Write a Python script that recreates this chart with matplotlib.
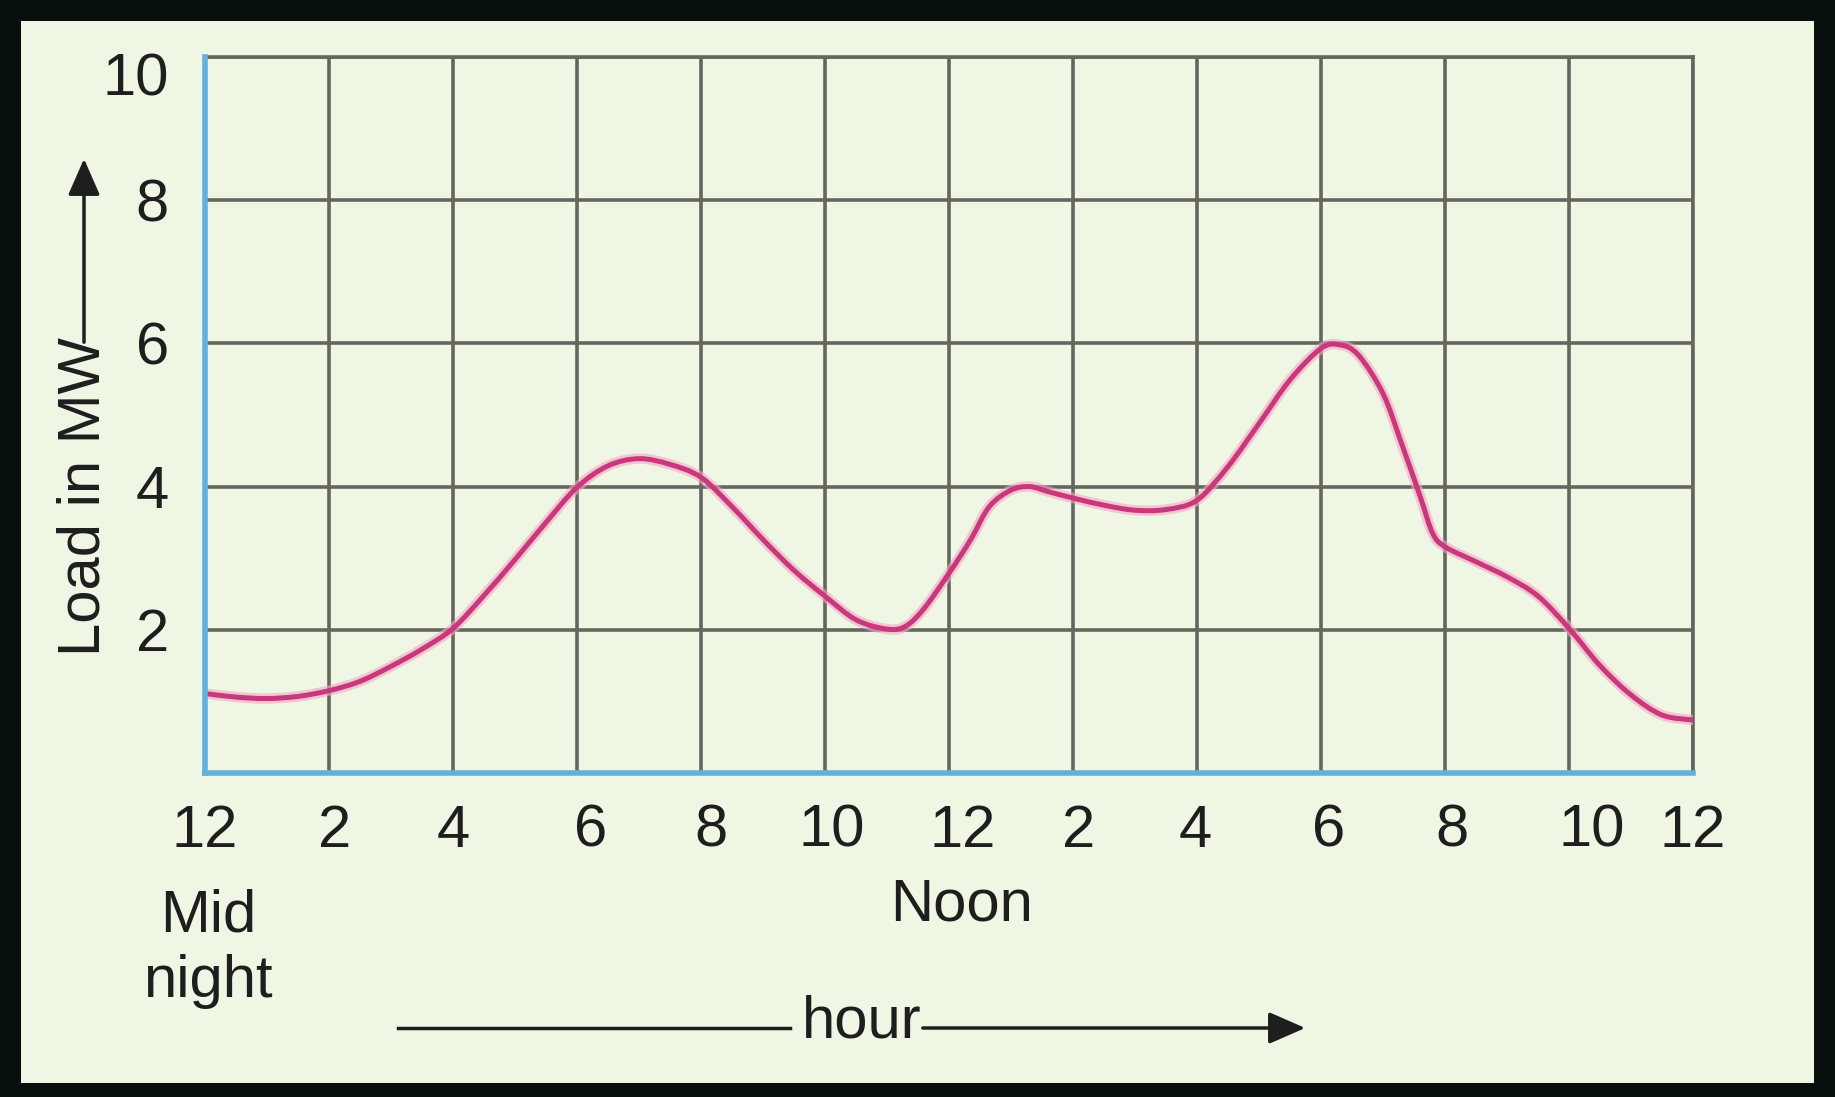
import numpy as np
import matplotlib
matplotlib.use("Agg")
import matplotlib.pyplot as plt
from matplotlib.patches import Rectangle, FancyArrowPatch, PathPatch
from matplotlib.path import Path
from matplotlib.transforms import ScaledTranslation

plt.rcParams['font.family'] = ['Liberation Sans Narrow', 'Liberation Sans', 'DejaVu Sans']

# load curve (hour of day, MW)
hours = [0, 0.5, 1, 1.5, 2, 2.5, 3, 3.5, 4, 4.5, 5, 5.5, 6, 6.5, 7, 7.5, 8,
         8.5, 9, 9.5, 10, 10.5, 11, 11.3, 11.6, 12, 12.35, 12.65, 13, 13.3,
         13.6, 14, 14.5, 15, 15.5, 16, 16.5, 17, 17.5, 18, 18.3, 18.6, 19,
         19.3, 19.6, 19.8, 20, 20.5, 21, 21.5, 22, 22.5, 23, 23.5, 24]
load_mw = [1.11, 1.06, 1.04, 1.07, 1.15, 1.28, 1.49, 1.73, 2.02, 2.48, 2.98,
           3.50, 3.99, 4.29, 4.39, 4.31, 4.13, 3.72, 3.26, 2.83, 2.47, 2.14,
           2.01, 2.05, 2.30, 2.79, 3.26, 3.72, 3.95, 4.00, 3.93, 3.84, 3.74,
           3.67, 3.68, 3.81, 4.28, 4.88, 5.49, 5.93, 5.98, 5.84, 5.30, 4.60,
           3.86, 3.35, 3.16, 2.95, 2.74, 2.47, 2.02, 1.50, 1.09, 0.81, 0.74]

x_ticks = list(range(0, 25, 2))
x_labels = ['12', '2', '4', '6', '8', '10', '12', '2', '4', '6', '8', '10', '12']
y_ticks = [2, 4, 6, 8, 10]

W, H = 1835, 1097
bg = '#eff6e4'
grid_c = '#646660'
blue = '#62b0dc'
ink = '#1e1e1e'


def smooth_path(xs, ys):
    # catmull-rom through the read points, drawn as cubic bezier pieces
    p = np.column_stack([xs, ys]).astype(float)
    p = np.vstack([p[0], p, p[-1]])
    verts = [p[1]]
    codes = [Path.MOVETO]
    for i in range(1, len(p) - 2):
        c1 = p[i] + (p[i + 1] - p[i - 1]) / 6
        c2 = p[i + 1] - (p[i + 2] - p[i]) / 6
        verts += [c1, c2, p[i + 1]]
        codes += [Path.CURVE4] * 3
    return Path(verts, codes)


fig = plt.figure(figsize=(W / 100, H / 100), dpi=100)
fig.patch.set_facecolor('#07100f')
# light panel inside the dark frame
fig.patches.append(Rectangle((21 / W, 1 - 1083 / H), (1814 - 21) / W, (1083 - 21) / H,
                             transform=fig.transFigure, facecolor=bg, edgecolor='none',
                             zorder=-10))

ax = fig.add_axes([205 / W, 1 - 773 / H, (1693 - 205) / W, (773 - 57) / H])
ax.set_zorder(1)
ax.set_facecolor(bg)
ax.set_xlim(0, 24)
ax.set_ylim(0, 10)

ax.set_xticks(x_ticks)
ax.set_xticklabels(x_labels)
ax.set_yticks(y_ticks)
ax.tick_params(length=0, labelsize=43, colors=ink)
ax.tick_params(axis='x', pad=22)
ax.tick_params(axis='y', pad=26)
ax.grid(True, color=grid_c, lw=2.6)
ax.set_axisbelow(True)

# the hand-set labels sit a little off their grid lines
x_nudge = [0, 6, 0, 14, 10, 7, 14, 6, -2, 8, 7, 23, 0]
for lbl, dx in zip(ax.get_xticklabels(), x_nudge):
    lbl.set_transform(lbl.get_transform() + ScaledTranslation(dx / 100, 0, fig.dpi_scale_trans))
top_lbl = ax.get_yticklabels()[-1]
top_lbl.set_transform(top_lbl.get_transform() + ScaledTranslation(0, -0.17, fig.dpi_scale_trans))

for s in ['top', 'right']:
    ax.spines[s].set_color(grid_c)
    ax.spines[s].set_linewidth(2.6)
for s in ['left', 'bottom']:
    ax.spines[s].set_color(blue)
    ax.spines[s].set_linewidth(4)
    ax.spines[s].set_zorder(5)

# soft pink halo then the curve itself
curve = smooth_path(hours, load_mw)
ax.add_patch(PathPatch(curve, facecolor='none', edgecolor='#f4a6c6', lw=7.5, alpha=0.6,
                       capstyle='round', joinstyle='round', zorder=3))
ax.add_patch(PathPatch(curve, facecolor='none', edgecolor='#c8387a', lw=3.6,
                       capstyle='round', joinstyle='round', zorder=4))

# labels under the x axis
xt = ax.get_xaxis_transform()
ax.text(0.05, -0.245, 'Mid\nnight', transform=xt, ha='center', va='center',
        fontsize=43, color=ink, linespacing=1.25, clip_on=False)
ax.text(12.2, -0.185, 'Noon', transform=xt, ha='center', va='center',
        fontsize=43, color=ink, clip_on=False)

# "hour" with arrow
fig.text(862 / W, 1 - 1022 / H, 'hour', ha='center', va='center', fontsize=43, color=ink)
fig.add_artist(plt.Line2D([398 / W, 790 / W], [1 - 1028 / H] * 2, color=ink, lw=2.5))
fig.patches.append(FancyArrowPatch(
    (920 / W, 1 - 1028 / H), (1308 / W, 1 - 1028 / H), transform=fig.transFigure,
    arrowstyle='-|>,head_length=1.6,head_width=0.7', mutation_scale=14,
    color=ink, lw=2.5))

# y axis label with upward arrow
fig.text(84 / W, 1 - 497 / H, 'Load in MW', rotation=90, ha='center', va='center',
         fontsize=43, color=ink)
fig.patches.append(FancyArrowPatch(
    (84 / W, 1 - 345 / H), (84 / W, 1 - 156 / H), transform=fig.transFigure,
    arrowstyle='-|>,head_length=1.6,head_width=0.7', mutation_scale=14,
    color=ink, lw=2.5))

fig.savefig('out.png', dpi=100, facecolor=fig.get_facecolor())
